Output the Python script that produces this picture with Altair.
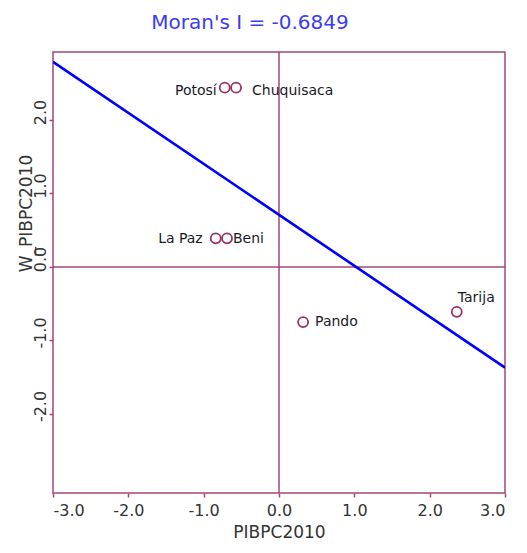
import altair as alt
import pandas as pd

# Data
names = ["Potosí", "Chuquisaca", "La Paz", "Beni", "Pando", "Tarija"]
pib = [-0.72, -0.57, -0.84, -0.69, 0.32, 2.36]
w_pib = [2.44, 2.44, 0.39, 0.39, -0.75, -0.61]
reg_x = [-3.0, 3.0]
reg_y = [2.79, -1.37]
x_ticks = [-3, -2, -1, 0, 1, 2, 3]
y_ticks = [-2, -1, 0, 1, 2]

pts = pd.DataFrame({"name": names, "x": pib, "y": w_pib})
reg = pd.DataFrame({"x": reg_x, "y": reg_y})
zero = pd.DataFrame({"v": [0.0]})

FRAME = "#a3467c"
PT = "#993366"
FONT = "DejaVu Sans"
LBL = "(datum.value < 0 ? '-' : '') + format(abs(datum.value), '.1f')"

xs = alt.Scale(domain=[-3, 3], nice=False, zero=False)
ys = alt.Scale(domain=[-3.075, 2.925], nice=False, zero=False)

xaxis = alt.Axis(values=x_ticks, labelExpr=LBL, title="PIBPC2010", grid=False,
                 domain=False, tickColor=FRAME, tickSize=4, tickWidth=1.5,
                 labelFont=FONT, labelFontSize=16, labelColor="#333",
                 labelPadding=5, titleFont=FONT, titleFontSize=17,
                 titleFontWeight="normal", titleColor="#333", titlePadding=6)
yaxis = alt.Axis(values=y_ticks, labelExpr=LBL, title="W_PIBPC2010", grid=False,
                 domain=False, tickColor=FRAME, tickSize=4, tickWidth=1.5,
                 labelAngle=-90, labelAlign="center", labelBaseline="bottom",
                 labelOffset=-8, labelPadding=1,
                 labelFont=FONT, labelFontSize=16, labelColor="#333",
                 titleFont=FONT, titleFontSize=17, titleFontWeight="normal",
                 titleColor="#333", titleAngle=-90, titleX=-27, titleY=161,
                 titleAlign="center", titleBaseline="middle")

base_pts = alt.Chart(pts)

vline = alt.Chart(zero).mark_rule(color=FRAME, strokeWidth=1.5).encode(
    x=alt.X("v:Q", scale=xs, axis=xaxis))
hline = alt.Chart(zero).mark_rule(color=FRAME, strokeWidth=1.5).encode(
    y=alt.Y("v:Q", scale=ys, axis=yaxis))

line = alt.Chart(reg).mark_line(color="#0000ff", strokeWidth=2.6, clip=True).encode(
    x=alt.X("x:Q", scale=xs), y=alt.Y("y:Q", scale=ys))

circles = base_pts.mark_point(shape="circle", size=100, filled=False,
                              color=PT, strokeWidth=1.8, opacity=1).encode(
    x=alt.X("x:Q", scale=xs), y=alt.Y("y:Q", scale=ys))

offsets = {
    "Potosí": ("right", -8, 3),
    "Chuquisaca": ("left", 16, 3),
    "La Paz": ("right", -13, 1),
    "Beni": ("left", 6, 1),
    "Pando": ("left", 12, 0),
    "Tarija": ("left", 1, -14),
}
texts = []
for nm, (al, dx, dy) in offsets.items():
    texts.append(
        base_pts.transform_filter(alt.datum.name == nm).mark_text(
            align=al, baseline="middle", dx=dx, dy=dy, font=FONT,
            fontSize=14, color="#1a1a2a").encode(
            x=alt.X("x:Q", scale=xs), y=alt.Y("y:Q", scale=ys), text="name:N"))

chart = alt.layer(vline, hline, line, circles, *texts).properties(
    width=452, height=441,
    autosize=alt.AutoSizeParams(type="none"),
    padding={"left": 53, "top": 52, "right": 22, "bottom": 60},
    title=alt.TitleParams(text="Moran's I = -0.6849", fontSize=20, color="#3c3cf0",
                          font=FONT, fontWeight="normal", anchor="middle",
                          dx=-29, offset=18),
).configure_view(stroke=FRAME, strokeWidth=1.5)

chart.save("out.html", embed_options={"renderer": "svg", "actions": False})
